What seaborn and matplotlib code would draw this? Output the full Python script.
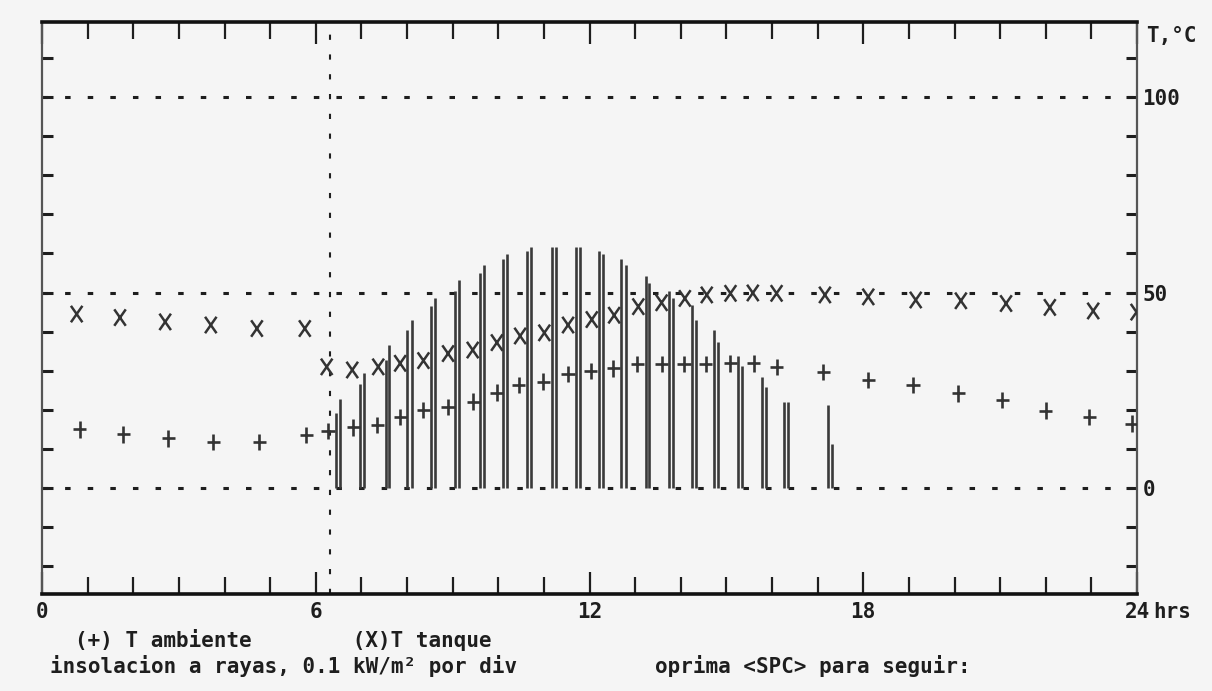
import numpy as np
import matplotlib
matplotlib.use("Agg")
import matplotlib.pyplot as plt
import seaborn as sns
from matplotlib.path import Path
from matplotlib.ticker import FixedLocator, MultipleLocator

# ---------------- data ----------------
hora_tanque = [0.76, 1.71, 2.70, 3.70, 4.71, 5.76, 6.24, 6.80, 7.37, 7.85, 8.36, 8.90,
               9.44, 9.97, 10.48, 11.01, 11.53, 12.05, 12.54, 13.07, 13.58, 14.09, 14.57,
               15.09, 15.58, 16.10, 17.16, 18.11, 19.15, 20.14, 21.13, 22.09, 23.04, 23.99]
t_tanque = [44.5, 43.6, 42.5, 41.7, 40.8, 40.8, 31.0, 30.2, 31.0, 31.9, 32.6, 34.4,
            35.3, 37.2, 38.9, 39.7, 41.7, 43.1, 44.2, 46.4, 47.4, 48.5, 49.4,
            49.8, 49.9, 49.8, 49.4, 48.9, 48.1, 47.9, 47.2, 46.2, 45.3, 45.0]

hora_amb = [0.83, 1.78, 2.77, 3.75, 4.76, 5.79, 6.27, 6.82, 7.35, 7.85, 8.36, 8.90,
            9.45, 9.97, 10.45, 10.99, 11.53, 12.03, 12.52, 13.05, 13.58, 14.07, 14.55,
            15.09, 15.60, 16.10, 17.12, 18.11, 19.09, 20.08, 21.05, 22.00, 22.95, 23.88]
t_amb = [15.0, 13.7, 12.7, 11.8, 11.8, 13.6, 14.6, 15.5, 16.1, 18.1, 19.9, 20.8,
         22.1, 24.4, 26.3, 27.2, 29.2, 30.0, 30.6, 31.7, 31.7, 31.7, 31.7,
         31.9, 31.9, 31.0, 29.7, 27.6, 26.3, 24.2, 22.5, 19.8, 18.1, 16.5]

hora_sol = [6.44, 6.53, 6.98, 7.06, 7.53, 7.61, 8.01, 8.10, 8.53, 8.61, 9.05, 9.15,
            9.60, 9.69, 10.11, 10.20, 10.62, 10.71, 11.17, 11.26, 11.70, 11.79,
            12.21, 12.30, 12.70, 12.79, 13.23, 13.31, 13.75, 13.83, 14.24, 14.33,
            14.73, 14.82, 15.26, 15.35, 15.77, 15.86, 16.26, 16.34, 17.23, 17.31]
insolacion_kw = [0.193, 0.229, 0.266, 0.293, 0.327, 0.367, 0.404, 0.431, 0.465, 0.485,
                 0.504, 0.532, 0.549, 0.570, 0.587, 0.598, 0.607, 0.616, 0.617, 0.617,
                 0.617, 0.616, 0.607, 0.598, 0.587, 0.570, 0.542, 0.525, 0.505, 0.485,
                 0.468, 0.431, 0.404, 0.374, 0.338, 0.312, 0.285, 0.258, 0.221, 0.221,
                 0.212, 0.112]

niveles_ref = [0, 50, 100]
hora_cursor = 6.31
x_ticks = [0, 6, 12, 18, 24]
x_ticklabels = ["0", "6", "12", "18", "24"]
y_labels = ["0", "50", "100"]

# ---------------- style ----------------
bg = "#f5f5f5"
ink = "#1e1e1e"
mark_ink = "#333333"
font = ["DejaVu Sans Mono", "DejaVu Sans"]

sns.set_theme(style="white")
plt.rcParams["font.family"] = font
plt.rcParams["font.weight"] = "bold"

fig = plt.figure(figsize=(12.12, 6.91), dpi=100)
fig.patch.set_facecolor(bg)
ax = fig.add_axes([42 / 1212, 1 - 594 / 691, (1137 - 42) / 1212, (594 - 22) / 691])
ax.set_facecolor(bg)
ax.set_xlim(0, 24)
ax.set_ylim(-27.1, 119.2)

# reference dashed lines
for lvl in niveles_ref:
    ax.axhline(lvl, color=ink, lw=2.2, dashes=(1.8, 5.6), zorder=1)
ax.axvline(hora_cursor, color=ink, lw=1.5, dashes=(2.5, 7.0), zorder=1)

# insolation stripes (0.1 kW/m2 per 10 degree division)
ax.vlines(hora_sol, 0, np.array(insolacion_kw) * 100, colors="#3a3a3a", lw=1.9, zorder=2)

# markers
x_path = Path([(-0.7, -1), (0.7, 1), (-0.7, 1), (0.7, -1)],
              [Path.MOVETO, Path.LINETO, Path.MOVETO, Path.LINETO])
p_path = Path([(0, -1), (0, 1), (-0.8, 0), (0.8, 0)],
              [Path.MOVETO, Path.LINETO, Path.MOVETO, Path.LINETO])
sns.scatterplot(x=hora_tanque, y=t_tanque, marker=x_path, s=140, color=mark_ink,
                edgecolor=mark_ink, facecolor="none", linewidth=1.8, ax=ax, zorder=3)
sns.scatterplot(x=hora_amb, y=t_amb, marker=p_path, s=140, color=mark_ink,
                edgecolor=mark_ink, facecolor="none", linewidth=1.9, ax=ax, zorder=3)

# ticks
ax.xaxis.set_major_locator(FixedLocator(x_ticks))
ax.xaxis.set_minor_locator(MultipleLocator(1))
ax.set_xticklabels(x_ticklabels)
ax.tick_params(axis="x", which="major", direction="in", length=16, width=1.6,
               top=True, bottom=True, color=ink, labelsize=15, pad=6, labelcolor=ink)
ax.tick_params(axis="x", which="minor", direction="in", length=12, width=1.6,
               top=True, bottom=True, color=ink)
ax.yaxis.set_major_locator(FixedLocator(niveles_ref))
ax.yaxis.set_minor_locator(MultipleLocator(10))
ax.set_yticklabels(y_labels)
ax.tick_params(axis="y", which="both", direction="in", length=8, width=2.2,
               left=True, right=True, labelleft=False, labelright=True, color=ink,
               labelsize=15, pad=4, labelcolor=ink)
ax.set_xlabel("")
ax.set_ylabel("")

for side in ["top", "bottom"]:
    ax.spines[side].set_linewidth(2.6)
    ax.spines[side].set_color("#111111")
for side in ["left", "right"]:
    ax.spines[side].set_linewidth(1.6)
    ax.spines[side].set_color("#555555")
    ax.spines[side].set_visible(True)

# texts
fig.text(1146 / 1212, 1 - 36 / 691, "T,°C", ha="left", va="center", fontsize=15,
         color=ink, fontweight="bold")
fig.text(1153 / 1212, 1 - 612 / 691, "hrs", ha="left", va="center", fontsize=15,
         color=ink, fontweight="bold")
fig.text(75 / 1212, 1 - 647 / 691, "(+) T ambiente        (X)T tanque", ha="left",
         va="baseline", fontsize=15, color=ink, fontweight="bold")
fig.text(50 / 1212, 1 - 673 / 691, "insolacion a rayas, 0.1 kW/m² por div", ha="left",
         va="baseline", fontsize=15, color=ink, fontweight="bold")
fig.text(655 / 1212, 1 - 673 / 691, "oprima <SPC> para seguir:", ha="left",
         va="baseline", fontsize=15, color=ink, fontweight="bold")

fig.savefig("out.png", dpi=100, facecolor=bg)
